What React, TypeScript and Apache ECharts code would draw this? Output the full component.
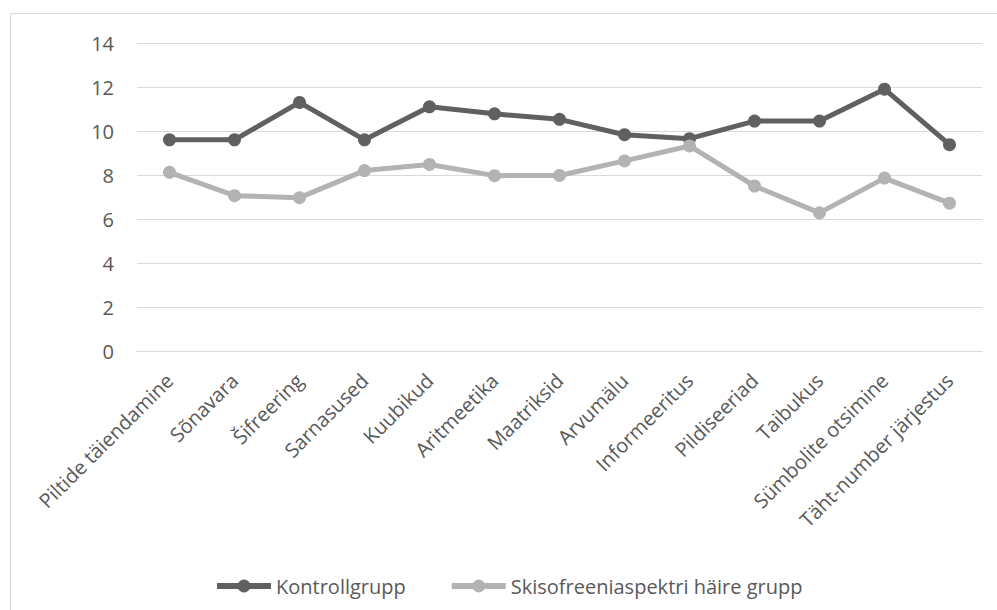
import React, { useEffect, useRef } from "react";
import * as echarts from "echarts";

const categories = [
  "Piltide täiendamine",
  "Sõnavara",
  "Šifreering",
  "Sarnasused",
  "Kuubikud",
  "Aritmeetika",
  "Maatriksid",
  "Arvumälu",
  "Informeeritus",
  "Pildiseeriad",
  "Taibukus",
  "Sümbolite otsimine",
  "Täht-number järjestus",
];

const kontrollgrupp = [9.6, 9.6, 11.3, 9.6, 11.1, 10.78, 10.53, 9.83, 9.65, 10.45, 10.45, 11.9, 9.38];
const skisofreenia = [8.12, 7.06, 6.97, 8.2, 8.48, 7.97, 7.98, 8.64, 9.32, 7.5, 6.28, 7.86, 6.72];

const seriesNames = ["Kontrollgrupp", "Skisofreeniaspektri häire grupp"];

const FONT = "'Open Sans', sans-serif";

export default function App() {
  const ref = useRef<HTMLDivElement>(null);
  useEffect(() => {
    if (!ref.current) return;
    const chart = echarts.init(ref.current, undefined, { renderer: "svg" });
    chart.setOption({
      animation: false,
      backgroundColor: "#ffffff",
      graphic: [
        {
          type: "rect",
          shape: { x: 10.5, y: 13.5, width: 1000, height: 620 },
          style: { fill: "none", stroke: "#d9d9d9", lineWidth: 1 },
          silent: true,
        },
      ],
      grid: { left: 137, right: 15, top: 43, bottom: 259, containLabel: false },
      legend: {
        top: 571,
        left: 209,
        itemWidth: 54,
        itemHeight: 16,
        itemGap: 43,
        lineStyle: { width: 6 },
        textStyle: { color: "#595959", fontSize: 20, fontFamily: FONT },
        data: seriesNames,
      },
      xAxis: {
        type: "category",
        data: categories,
        boundaryGap: true,
        axisLine: { lineStyle: { color: "#d9d9d9", width: 1 } },
        axisTick: { show: false },
        axisLabel: {
          rotate: 45,
          interval: 0,
          color: "#595959",
          fontSize: 20,
          fontFamily: FONT,
          margin: 26,
        },
      },
      yAxis: {
        type: "value",
        min: 0,
        max: 14,
        interval: 2,
        axisLine: { show: false },
        axisTick: { show: false },
        splitLine: { lineStyle: { color: "#d9d9d9", width: 1 } },
        axisLabel: { color: "#595959", fontSize: 20, fontFamily: FONT, margin: 23 },
      },
      series: [
        {
          name: seriesNames[0],
          type: "line",
          data: kontrollgrupp,
          symbol: "circle",
          symbolSize: 13,
          lineStyle: { color: "#606060", width: 5 },
          itemStyle: { color: "#606060" },
        },
        {
          name: seriesNames[1],
          type: "line",
          data: skisofreenia,
          symbol: "circle",
          symbolSize: 13,
          lineStyle: { color: "#b3b3b3", width: 5 },
          itemStyle: { color: "#b3b3b3" },
        },
      ],
    });
    return () => chart.dispose();
  }, []);
  return (
    <div
      ref={ref}
      style={{ position: "absolute", left: 0, top: 0, width: 997, height: 610 }}
    />
  );
}
